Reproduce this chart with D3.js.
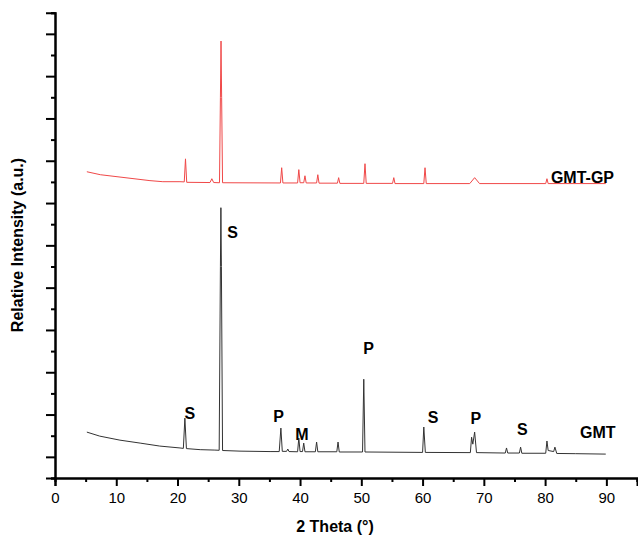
<!DOCTYPE html>
<html>
<head>
<meta charset="utf-8">
<script src="https://cdn.jsdelivr.net/npm/d3@7"></script>
<style>
  html, body { margin: 0; padding: 0; background: #fff; }
  svg { display: block; font-family: "Liberation Sans", Arial, sans-serif; }
</style>
</head>
<body>
<svg id="chart" width="638" height="541"></svg>
<script>
// ---- data (2θ in degrees, relative intensity in a.u.) ----
const gmtPattern = [
  [5.2,117],[7.3,98],[10.6,79],[13.9,65],[17.1,51],[20.4,42],[20.95,40],[21.2,183],[21.45,39],
  [23.7,34],[26.1,32],[26.8,31],[27.0,900],[27.08,1178],[27.16,900],[27.35,30],[30.2,27],[35.1,25],
  [36.6,25],[36.87,136],[37.1,26],[37.8,26],[38.0,37],[38.2,25],[39.6,24],[39.8,89],[40.0,25],
  [40.4,25],[40.6,65],[40.8,24],[42.5,24],[42.7,70],[42.9,24],[46.0,24],[46.2,70],[46.4,23],
  [50.2,23],[50.4,367],[50.6,23],[60.0,21],[60.2,141],[60.45,21],[67.8,20],[68.0,93],[68.2,60],
  [68.5,117],[68.8,20],[73.5,18],[73.7,42],[73.9,18],[75.8,18],[76.0,46],[76.2,17],[80.1,17],
  [80.3,75],[80.5,30],[81.4,25],[81.6,46],[81.9,16],[85.0,15],[89.9,13]
];
const gmtGpPattern = [
  [5.2,1348],[7.4,1334],[15.5,1306],[17.6,1301],[20.4,1301],[21.1,1300],[21.3,1409],[21.5,1298],[25.3,1297],
  [25.6,1315],[25.9,1297],[26.85,1296],[27.0,1700],[27.1,1966],[27.2,1700],[27.35,1296],[36.8,1295],
  [37.0,1367],[37.2,1295],[39.6,1295],[39.8,1358],[40.0,1296],[40.6,1296],[40.8,1329],[41.0,1295],
  [42.7,1295],[42.9,1334],[43.1,1294],[46.1,1294],[46.3,1320],[46.5,1293],[50.4,1293],[50.6,1386],
  [50.8,1293],[55.1,1293],[55.3,1320],[55.5,1292],[60.2,1292],[60.4,1367],[60.6,1292],[67.7,1292],
  [68.5,1320],[69.3,1292],[80.1,1292],[80.3,1315],[80.5,1292],[89.9,1292]
];
// phase labels: [text, 2θ, intensity]
const phaseLabels = [
  ["S",22.0,207],["S",29.0,1060],["P",36.5,192],["M",40.3,108],["P",51.2,513],
  ["S",61.7,188],["P",68.7,183],["S",76.3,131]
];
const sampleLabels = [["GMT",88.6,117],["GMT-GP",86.1,1320]];
const xMajorTicks = [0,10,20,30,40,50,60,70,80,90];
const xMinorTicks = [5,15,25,35,45,55,65,75,85,95];
const yMajorTicks = d3.range(0, 2001, 200);
const yMinorTicks = d3.range(-100, 2101, 200);

// ---- layout ----
const svg = d3.select("#chart");
const x = d3.scaleLinear().domain([0, 95]).range([55, 637]);
const y = d3.scaleLinear().domain([-100, 2100]).range([478, 12.7]);

const line = d3.line().x(d => x(d[0])).y(d => y(d[1]));

svg.append("path").datum(gmtGpPattern)
  .attr("fill", "none").attr("stroke", "#f04848").attr("stroke-width", 1).attr("d", line);
svg.append("path").datum(gmtPattern)
  .attr("fill", "none").attr("stroke", "#333").attr("stroke-width", 1).attr("d", line);

// axes
const xAxisMajor = d3.axisBottom(x).tickValues(xMajorTicks).tickSize(8).tickFormat(d3.format("d"));
const xAxisMinor = d3.axisBottom(x).tickValues(xMinorTicks).tickSize(4).tickFormat("");
const yAxisMajor = d3.axisLeft(y).tickValues(yMajorTicks).tickSize(9).tickFormat("");
const yAxisMinor = d3.axisLeft(y).tickValues(yMinorTicks).tickSize(4).tickFormat("");

function styleAxis(g) {
  g.select(".domain").attr("stroke", "#000").attr("stroke-width", 2);
  g.selectAll(".tick line").attr("stroke", "#000").attr("stroke-width", 2);
  g.selectAll(".tick text").attr("fill", "#000").attr("font-size", 15)
    .attr("font-family", "Liberation Sans, Arial, sans-serif");
}
svg.append("g").attr("transform", `translate(0,${y(-100)})`).call(xAxisMinor).call(styleAxis);
svg.append("g").attr("transform", `translate(0,${y(-100)})`).call(xAxisMajor).call(styleAxis)
  .selectAll(".tick text").attr("dy", "0.95em");
svg.append("g").attr("transform", `translate(${x(0)},0)`).call(yAxisMinor).call(styleAxis);
svg.append("g").attr("transform", `translate(${x(0)},0)`).call(yAxisMajor).call(styleAxis);

// axis titles
svg.append("text").attr("x", 335).attr("y", 532).attr("text-anchor", "middle")
  .attr("font-size", 16).attr("font-weight", "bold").text("2 Theta (°)");
svg.append("text").attr("transform", "translate(23,245) rotate(-90)").attr("text-anchor", "middle")
  .attr("font-size", 16).attr("font-weight", "bold").text("Relative Intensity (a.u.)");

// labels
svg.selectAll("text.phase").data(phaseLabels).join("text").attr("class", "phase")
  .attr("x", d => x(d[1])).attr("y", d => y(d[2])).attr("dy", "0.35em")
  .attr("text-anchor", "middle").attr("font-size", 16).attr("font-weight", "bold").text(d => d[0]);
svg.selectAll("text.sample").data(sampleLabels).join("text").attr("class", "sample")
  .attr("x", d => x(d[1])).attr("y", d => y(d[2])).attr("dy", "0.35em")
  .attr("text-anchor", "middle").attr("font-size", 16).attr("font-weight", "bold").text(d => d[0]);
</script>
</body>
</html>
